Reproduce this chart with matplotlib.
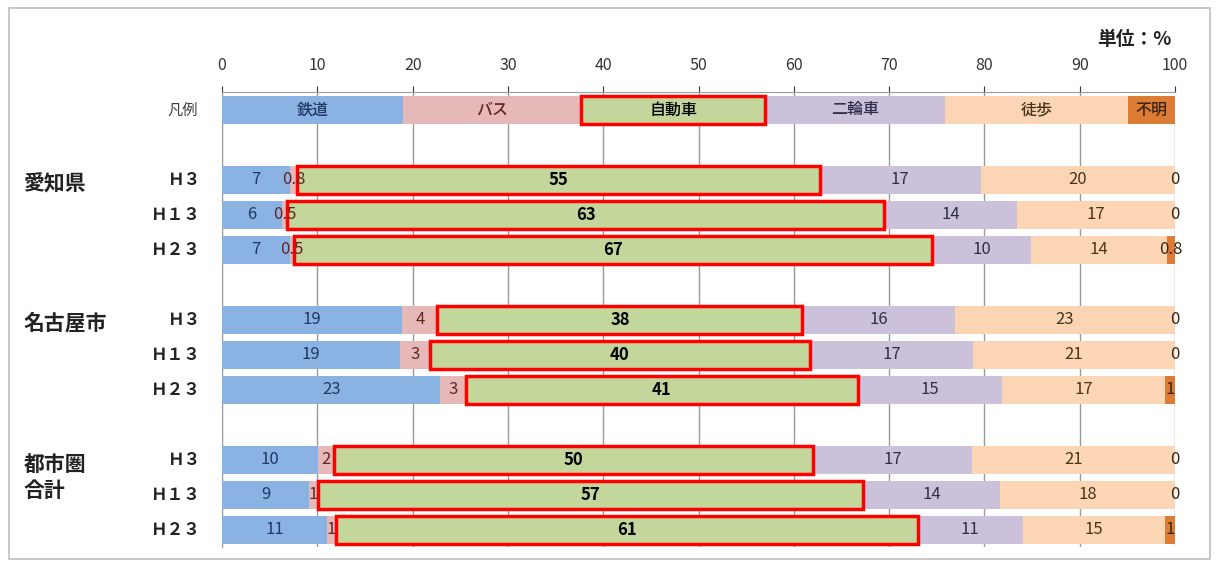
import matplotlib
matplotlib.use('Agg')
import matplotlib.pyplot as plt
from matplotlib.patches import Rectangle

plt.rcParams['font.family'] = ['Noto Sans CJK JP', 'DejaVu Sans']

modes = ['鉄道', 'バス', '自動車', '二輪車', '徒歩', '不明']
legend_widths = [19.0, 18.7, 19.3, 18.9, 19.2, 4.9]
groups = ['愛知県', '名古屋市', '都市圏\n合計']
years = ['Ｈ３', 'Ｈ１３', 'Ｈ２３']

# shares (%) for each row: 愛知県 H3,H13,H23 / 名古屋市 ... / 都市圏合計 ...
rail = [7.1, 6.3, 7.1, 18.9, 18.7, 22.9, 10.1, 9.1, 11.0]
bus = [0.8, 0.5, 0.5, 3.7, 3.1, 2.7, 1.6, 1.0, 1.0]
car = [54.8, 62.7, 66.9, 38.3, 39.9, 41.1, 50.3, 57.2, 61.0]
bike = [16.9, 13.9, 10.4, 16.0, 17.1, 15.1, 16.7, 14.3, 11.0]
walk = [20.4, 16.6, 14.3, 23.1, 21.2, 17.2, 21.3, 18.4, 15.0]
unknown = [0, 0, 0.8, 0, 0, 1.0, 0, 0, 1.0]

series = [rail, bus, car, bike, walk, unknown]
colors = ['#8AB2E2', '#E6B9B8', '#C3D69B', '#CCC1DA', '#FCD5B5', '#DD7D35']
text_colors = ['#1F3864', '#632523', 'black', '#2E2E4A', '#4A3318', '#3A2410']


def fmt(v):
    if 0 < v < 1:
        return f'{v:.1f}'
    return f'{v:.0f}'


fig = plt.figure(figsize=(12.16, 5.66), dpi=100)
fig.patches.append(Rectangle((0.007, 0.012), 0.988, 0.974, transform=fig.transFigure,
                             fill=False, edgecolor='#BFBFBF', linewidth=1.2))
ax = fig.add_axes([0.1826, 0.0327, 0.7837, 0.8039])

# row positions: legend at 0, then 3 rows per group with a blank row between
ypos = []
for g in range(len(groups)):
    for k in range(len(years)):
        ypos.append(2 + g * 4 + k)

h = 0.8
# legend row
left = 0
for i, m in enumerate(modes):
    w = legend_widths[i]
    ec = '#FF0000' if i == 2 else 'none'
    lw = 2.5 if i == 2 else 0
    ax.barh(0, w, left=left, height=h, color=colors[i], edgecolor=ec, linewidth=lw,
            zorder=4 if i == 2 else 3)
    ax.text(left + w / 2, 0, m, ha='center', va='center', fontsize=11.5,
            color=text_colors[i], fontweight='medium', zorder=5)
    left += w

# data rows
lefts = [0] * len(ypos)
for i, s in enumerate(series):
    ec = '#FF0000' if i == 2 else 'none'
    lw = 2.5 if i == 2 else 0
    ax.barh(ypos, s, left=lefts, height=h, color=colors[i], edgecolor=ec, linewidth=lw,
            zorder=4 if i == 2 else 3)
    for y, l, v in zip(ypos, lefts, s):
        ax.text(l + v / 2, y, fmt(v), ha='center', va='center', fontsize=12,
                color=text_colors[i], fontweight='bold' if i == 2 else 'normal', zorder=6)
    lefts = [l + v for l, v in zip(lefts, s)]

ax.set_xlim(0, 100)
ax.set_ylim(12.5, -0.5)
ax.set_xticks(range(0, 101, 10))
ax.xaxis.tick_top()
ax.tick_params(axis='x', labelsize=11.5, colors='#333333', length=4, pad=9)
ax.set_yticks([])
ax.grid(axis='x', color='#9A9A9A', linewidth=1, zorder=0)
ax.set_axisbelow(True)
for sp in ['right', 'bottom']:
    ax.spines[sp].set_visible(False)
ax.spines['top'].set_color('#9A9A9A')
ax.spines['left'].set_color('#9A9A9A')

# row labels
ax.text(-2.5, 0, '凡例', ha='right', va='center', fontsize=11, color='#404040')
for y, k in zip(ypos, range(len(ypos))):
    ax.text(-2.2, y, years[k % 3], ha='right', va='center', fontsize=12,
            fontweight='bold', color='#222222')
for g, name in enumerate(groups):
    y0 = 2 + g * 4
    ax.text(-20.8, y0 + (0.5 if '\n' in name else 0.1), name, ha='left', va='center',
            fontsize=15, fontweight='bold', color='#222222', linespacing=1.35)

fig.text(0.963, 0.93, '単位：%', ha='right', va='center', fontsize=13.5,
         fontweight='bold', color='#222222')

fig.savefig('out.png', dpi=100)
